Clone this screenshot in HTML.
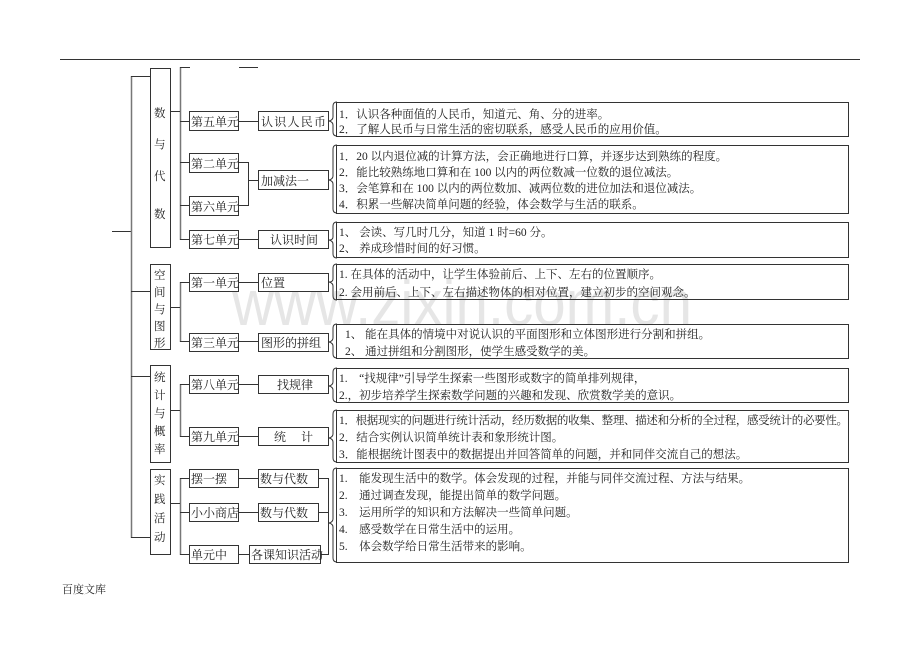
<!DOCTYPE html>
<html><head><meta charset="utf-8"><style>
html,body{margin:0;padding:0;background:#fff;width:920px;height:651px;overflow:hidden}
svg{display:block}
text{font-family:"Liberation Serif","Noto Serif CJK SC","Noto Sans CJK SC",serif;fill:#222;font-size:11.5px}
.u{font-size:12px}
.wm{font-family:"Liberation Sans",sans-serif;font-size:64px;fill:#e6e6e6}
</style></head><body>
<svg width="920" height="651" viewBox="0 0 920 651" xmlns="http://www.w3.org/2000/svg">
<text class="wm" x="232" y="325" textLength="460" lengthAdjust="spacingAndGlyphs">www.zixin.com.cn</text>
<g stroke="#333" stroke-width="1" fill="none">
<line x1="60" y1="59.5" x2="860" y2="59.5"/>
<line x1="112" y1="231.5" x2="131" y2="231.5"/>
<line x1="131.5" y1="76" x2="131.5" y2="538" stroke="#777" stroke-width="1.5"/>
<line x1="131" y1="76.5" x2="150" y2="76.5"/>
<line x1="131" y1="291.5" x2="150" y2="291.5"/>
<line x1="131" y1="376.5" x2="150" y2="376.5"/>
<line x1="131" y1="537.5" x2="150" y2="537.5"/>
<rect x="150.5" y="68.5" width="20" height="179"/>
<rect x="150.5" y="264.5" width="20" height="85"/>
<rect x="150.5" y="365.5" width="20" height="97"/>
<rect x="150.5" y="469.5" width="20" height="85"/>
<line x1="180.5" y1="67" x2="180.5" y2="240" stroke="#777" stroke-width="1.5"/>
<line x1="180" y1="67.5" x2="190" y2="67.5"/>
<line x1="239" y1="67.5" x2="258" y2="67.5"/>
<line x1="170" y1="111.5" x2="180" y2="111.5"/>
<line x1="180" y1="121.5" x2="190" y2="121.5"/>
<line x1="180" y1="162.5" x2="190" y2="162.5"/>
<line x1="180" y1="205.5" x2="190" y2="205.5"/>
<line x1="180" y1="239.5" x2="190" y2="239.5"/>
<line x1="180.5" y1="282" x2="180.5" y2="342" stroke="#777" stroke-width="1.5"/>
<line x1="170" y1="307.5" x2="180" y2="307.5"/>
<line x1="180" y1="282.5" x2="190" y2="282.5"/>
<line x1="180" y1="341.5" x2="190" y2="341.5"/>
<line x1="180.5" y1="384" x2="180.5" y2="437" stroke="#777" stroke-width="1.5"/>
<line x1="170" y1="410.5" x2="180" y2="410.5"/>
<line x1="180" y1="384.5" x2="190" y2="384.5"/>
<line x1="180" y1="436.5" x2="190" y2="436.5"/>
<line x1="180.5" y1="478" x2="180.5" y2="555" stroke="#777" stroke-width="1.5"/>
<line x1="170" y1="503.5" x2="180" y2="503.5"/>
<line x1="180" y1="478.5" x2="190" y2="478.5"/>
<line x1="180" y1="512.5" x2="190" y2="512.5"/>
<line x1="180" y1="554.5" x2="190" y2="554.5"/>
<rect x="189.5" y="111.5" width="49" height="19"/>
<rect x="189.5" y="153.5" width="49" height="19"/>
<rect x="189.5" y="196.5" width="49" height="19"/>
<rect x="189.5" y="230.5" width="49" height="18"/>
<rect x="189.5" y="273.5" width="49" height="18"/>
<rect x="189.5" y="333.5" width="49" height="18"/>
<rect x="189.5" y="375.5" width="49" height="18"/>
<rect x="189.5" y="427.5" width="49" height="18"/>
<rect x="189.5" y="469.5" width="49" height="18"/>
<rect x="189.5" y="503.5" width="49" height="18"/>
<rect x="189.5" y="545.5" width="49" height="18"/>
<line x1="238" y1="121.5" x2="258" y2="121.5"/>
<line x1="238" y1="162.5" x2="248" y2="162.5"/>
<line x1="238" y1="205.5" x2="248" y2="205.5"/>
<line x1="248.5" y1="162" x2="248.5" y2="206"/>
<line x1="248" y1="180.5" x2="258" y2="180.5"/>
<line x1="238" y1="239.5" x2="258" y2="239.5"/>
<line x1="238" y1="282.5" x2="258" y2="282.5"/>
<line x1="238" y1="341.5" x2="258" y2="341.5"/>
<line x1="238" y1="384.5" x2="258" y2="384.5"/>
<line x1="238" y1="436.5" x2="258" y2="436.5"/>
<line x1="238" y1="478.5" x2="258" y2="478.5"/>
<line x1="238" y1="512.5" x2="258" y2="512.5"/>
<line x1="238" y1="554.5" x2="249" y2="554.5"/>
<rect x="258.5" y="111.5" width="70" height="19"/>
<rect x="258.5" y="170.5" width="70" height="19"/>
<rect x="258.5" y="230.5" width="70" height="18"/>
<rect x="258.5" y="273.5" width="70" height="18"/>
<rect x="258.5" y="333.5" width="70" height="18"/>
<rect x="258.5" y="375.5" width="70" height="18"/>
<rect x="258.5" y="427.5" width="70" height="18"/>
<rect x="258.5" y="469.5" width="60" height="18"/>
<rect x="258.5" y="503.5" width="60" height="18"/>
<rect x="249.5" y="545.5" width="71" height="18"/>
<line x1="318" y1="478.5" x2="328" y2="478.5"/>
<line x1="318" y1="512.5" x2="328" y2="512.5"/>
<line x1="320" y1="554.5" x2="328" y2="554.5"/>
<line x1="328.5" y1="478" x2="328.5" y2="555"/>
<rect x="336.5" y="102.5" width="512" height="34"/>
<rect x="336.5" y="145.5" width="512" height="68"/>
<rect x="336.5" y="222.5" width="512" height="35"/>
<rect x="336.5" y="264.5" width="512" height="35"/>
<rect x="336.5" y="324.5" width="512" height="34"/>
<rect x="336.5" y="368.5" width="512" height="34"/>
<rect x="336.5" y="410.5" width="512" height="52"/>
<rect x="336.5" y="468.5" width="512" height="94"/>
<path d="M337 102 q-4 0 -4 4 v11 q0 3 -4 4 q4 1 4 4 v7 q0 4 4 4"/>
<path d="M337 145 q-4 0 -4 4 v27 q0 3 -4 4 q4 1 4 4 v25 q0 4 4 4"/>
<path d="M337 222 q-4 0 -4 4 v11 q0 3 -4 3 q4 1 4 4 v10 q0 4 4 4"/>
<path d="M337 264 q-4 0 -4 4 v11 q0 3 -4 3 q4 1 4 4 v10 q0 4 4 4"/>
<path d="M337 324 q-4 0 -4 4 v10 q0 3 -4 4 q4 1 4 4 v8 q0 4 4 4"/>
<path d="M337 368 q-4 0 -4 4 v10 q0 3 -4 4 q4 1 4 4 v8 q0 4 4 4"/>
<path d="M337 410 q-4 0 -4 4 v20 q0 3 -4 4 q4 1 4 4 v16 q0 4 4 4"/>
<path d="M337 468 q-4 0 -4 4 v47 q0 3 -4 4 q4 1 4 4 v31 q0 4 4 4"/>
</g>
<g fill="#333">
<text x="154" y="117">数</text><text x="154" y="148">与</text><text x="154" y="180">代</text><text x="154" y="218">数</text>
<text x="154" y="279">空</text><text x="154" y="296">间</text><text x="154" y="313">与</text><text x="154" y="330">图</text><text x="154" y="347">形</text>
<text x="154" y="381">统</text><text x="154" y="399">计</text><text x="154" y="417">与</text><text x="154" y="435">概</text><text x="154" y="453">率</text>
<text x="154" y="484">实</text><text x="154" y="503">践</text><text x="154" y="522">活</text><text x="154" y="541">动</text>
</g>
<g class="u">
<text class="u" x="191" y="126">第五单元</text>
<text class="u" x="191" y="168">第二单元</text>
<text class="u" x="191" y="211">第六单元</text>
<text class="u" x="191" y="244">第七单元</text>
<text class="u" x="191" y="287">第一单元</text>
<text class="u" x="191" y="347">第三单元</text>
<text class="u" x="191" y="389">第八单元</text>
<text class="u" x="191" y="441">第九单元</text>
<text class="u" x="191" y="483">摆一摆</text>
<text class="u" x="191" y="517">小小商店</text>
<text class="u" x="191" y="559">单元中</text>
<text class="u" x="261" y="126" textLength="65">认识人民币</text>
<text class="u" x="261" y="185">加减法一</text>
<text class="u" x="270" y="244">认识时间</text>
<text class="u" x="261" y="287">位置</text>
<text class="u" x="261" y="347">图形的拼组</text>
<text class="u" x="277" y="389">找规律</text>
<text class="u" x="274" y="441">统　 计</text>
<text class="u" x="260" y="483">数与代数</text>
<text class="u" x="260" y="517">数与代数</text>
<text class="u" x="251" y="559">各课知识活动</text>
</g>
<text x="339" y="118">1．认识各种面值的人民币，知道元、角、分的进率。</text>
<text x="339" y="133">2．了解人民币与日常生活的密切联系，感受人民币的应用价值。</text>
<text x="339" y="160">1．20 以内退位减的计算方法，会正确地进行口算，并逐步达到熟练的程度。</text>
<text x="339" y="176">2．能比较熟练地口算和在 100 以内的两位数减一位数的退位减法。</text>
<text x="339" y="192">3．会笔算和在 100 以内的两位数加、减两位数的进位加法和退位减法。</text>
<text x="339" y="208">4．积累一些解决简单问题的经验，体会数学与生活的联系。</text>
<text x="339" y="236">1、 会读、写几时几分，知道 1 时=60 分。</text>
<text x="339" y="252">2、 养成珍惜时间的好习惯。</text>
<text x="339" y="278">1. 在具体的活动中，让学生体验前后、上下、左右的位置顺序。</text>
<text x="339" y="296">2. 会用前后、上下、左右描述物体的相对位置，建立初步的空间观念。</text>
<text x="345" y="338">1、 能在具体的情境中对说认识的平面图形和立体图形进行分割和拼组。</text>
<text x="345" y="355">2、 通过拼组和分割图形，使学生感受数学的美。</text>
<text x="339" y="382">1.　“找规律”引导学生探索一些图形或数字的简单排列规律，</text>
<text x="339" y="399">2.，初步培养学生探索数学问题的兴趣和发现、欣赏数学美的意识。</text>
<text x="339" y="424" textLength="509">1．根据现实的问题进行统计活动，经历数据的收集、整理、描述和分析的全过程，感受统计的必要性。</text>
<text x="339" y="441">2．结合实例认识简单统计表和象形统计图。</text>
<text x="339" y="458">3．能根据统计图表中的数据提出并回答简单的问题，并和同伴交流自己的想法。</text>
<text x="339" y="482">1.　能发现生活中的数学。体会发现的过程，并能与同伴交流过程、方法与结果。</text>
<text x="339" y="499">2.　通过调查发现，能提出简单的数学问题。</text>
<text x="339" y="516">3.　运用所学的知识和方法解决一些简单问题。</text>
<text x="339" y="533">4.　感受数学在日常生活中的运用。</text>
<text x="339" y="550">5.　体会数学给日常生活带来的影响。</text>
<text x="62" y="593" style="font-size:11px">百度文库</text>
</svg>
</body></html>
